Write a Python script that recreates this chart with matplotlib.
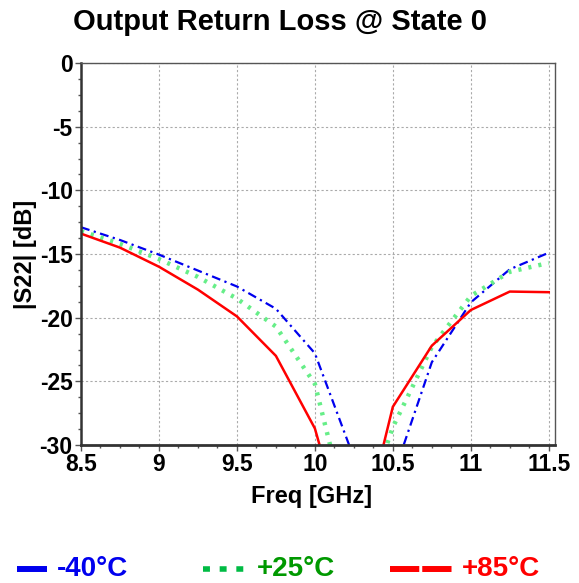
import matplotlib
matplotlib.use("Agg")
import matplotlib.pyplot as plt
from matplotlib.lines import Line2D
from matplotlib.ticker import MultipleLocator

plt.rcParams["font.family"] = ["Liberation Sans", "DejaVu Sans"]
plt.rcParams["axes.unicode_minus"] = False

# Frequency points (GHz) and |S22| (dB) per temperature
freq = [8.5, 8.75, 9.0, 9.25, 9.5, 9.75, 10.0, 10.25, 10.5, 10.75, 11.0, 11.25, 11.5]
s22_m40 = [-12.9, -13.9, -15.05, -16.3, -17.55, -19.3, -22.8, -31.0, -32.5, -23.5, -18.8, -16.2, -14.9]
s22_p25 = [-13.2, -14.2, -15.4, -16.8, -18.5, -20.7, -25.2, -37.5, -28.6, -22.3, -18.3, -16.4, -15.7]
s22_p85 = [-13.4, -14.5, -16.0, -17.8, -19.9, -23.0, -28.7, -39.5, -27.0, -22.2, -19.4, -17.95, -18.0]

labels = ["-40°C", "+25°C", "+85°C"]
xticks = [8.5, 9, 9.5, 10, 10.5, 11, 11.5]
xticklabels = ["8.5", "9", "9.5", "10", "10.5", "11", "11.5"]
yticks = [0, -5, -10, -15, -20, -25, -30]

W, H = 579, 583
fig = plt.figure(figsize=(W / 100, H / 100), dpi=100)
ax = fig.add_axes([81 / W, 1 - 445 / H, (555 - 81) / W, (445 - 63) / H])

ax.plot(freq, s22_m40, color="#0000ee", lw=1.6, linestyle=(0, (4, 2, 1, 2)))
ax.plot(freq, s22_p25, color="#66ee88", lw=3.2, linestyle=(0, (0.7, 1.6)))
ax.plot(freq, s22_p85, color="#ff0000", lw=1.8)

ax.set_xlim(8.5, 11.54)
ax.set_ylim(-30, 0)
ax.set_xticks(xticks)
ax.set_xticklabels(xticklabels)
ax.set_yticks(yticks)
ax.xaxis.set_minor_locator(MultipleLocator(0.125))
ax.yaxis.set_minor_locator(MultipleLocator(1.25))
ax.tick_params(which="both", direction="out", length=4, width=1, color="#555555")
ax.tick_params(which="minor", length=2.5)
ax.tick_params(labelsize=16.5)
ax.tick_params(axis="x", pad=2)
ax.tick_params(axis="y", pad=2)
for t in ax.get_xticklabels() + ax.get_yticklabels():
    t.set_fontweight("bold")

ax.grid(True, which="major", color="#aaaaaa", linestyle=(0, (2, 2)), lw=0.8)
for s in ax.spines.values():
    s.set_color("#555555")
    s.set_linewidth(1.0)
ax.spines["bottom"].set_color("#333333")
ax.spines["left"].set_color("#333333")
ax.spines["bottom"].set_linewidth(2)
ax.spines["left"].set_linewidth(1.8)

ax.set_xlabel("Freq [GHz]", fontsize=17, fontweight="bold")
ax.xaxis.set_label_coords((311.5 - 81) / (555 - 81), -(497 - 445) / (445 - 63))
ax.xaxis.label.set_va("center")
ax.set_ylabel("|S22| [dB]", fontsize=17, fontweight="bold", labelpad=2)
fig.text(280 / W, 1 - 22 / H, "Output Return Loss @ State 0", ha="center", va="center",
         fontsize=21, fontweight="bold")

# legend along the bottom, drawn in figure pixels
leg_y = 1 - 569 / H
handles = [
    ((17, 47), dict(color="#0000ee", lw=4.3, linestyle="-"), 57, "#0000ee"),
    ((203, 246), dict(color="#00bb44", lw=4, linestyle=(0, (1.25, 1.75))), 257, "#009900"),
    ((390, 452), dict(color="#ff0000", lw=4.3, linestyle=(0, (4.9, 0.5))), 462, "#ff0000"),
]
for (x0, x1), style, tx, tc in handles:
    fig.add_artist(Line2D([x0 / W, x1 / W], [leg_y, leg_y], transform=fig.transFigure,
                          solid_capstyle="butt", dash_capstyle="butt", **style))
for ((x0, x1), style, tx, tc), lab in zip(handles, labels):
    fig.text(tx / W, leg_y, lab, color=tc, fontsize=20, fontweight="bold",
             ha="left", va="center")

fig.savefig("out.png", dpi=100)
